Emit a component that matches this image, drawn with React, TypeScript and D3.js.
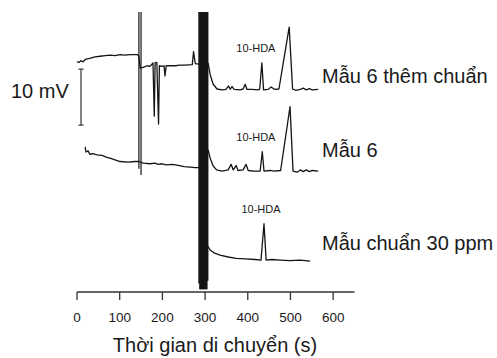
import React from 'react';
import * as d3 from 'd3';

// time (s), signal (mV)
const spikedTrace = [
  [0, 41.1], [5, 41.0], [9, 41.3], [14, 41.1], [21, 41.6], [30, 41.7], [42, 42.0], [54, 42.1],
  [66, 42.2], [77, 42.3], [89, 42.2], [101, 42.4], [112, 42.3], [124, 42.4], [142, 42.4],
  [145, 42.1], [148, 40.0], [155, 40.1], [164, 40.4], [171, 40.3], [178, 40.9], [181, 31.4],
  [183, 40.9], [187, 41.0], [191, 30.0], [193, 40.4], [199, 40.3], [204, 40.4], [206, 38.6],
  [209, 40.4], [218, 40.4], [230, 40.4], [241, 40.5], [253, 40.5], [270, 40.6], [273, 42.9],
  [277, 40.8], [286, 40.7],
];
const spikedTraceAfter = [
  [307, 40.9], [312, 38.8], [319, 37.1], [328, 36.25], [340, 36.1], [349, 36.2], [355, 36.8],
  [359, 36.2], [363, 36.7], [368, 36.2], [382, 36.1], [389, 36.25], [394, 37.1], [398, 36.2],
  [410, 36.2], [424, 36.1], [428, 36.25], [433, 40.9], [437, 36.1], [448, 36.2], [455, 36.6],
  [462, 36.2], [473, 36.25], [497, 47.3], [505, 36.25], [513, 36.0], [523, 36.2], [530, 36.4],
  [537, 36.1], [544, 36.3], [551, 36.1], [565, 36.2],
];
const sampleTrace = [
  [19, 25.9], [21, 25.0], [26, 25.2], [30, 24.6], [37, 24.7], [47, 24.5], [59, 24.4], [68, 24.1],
  [77, 23.9], [89, 23.6], [101, 23.3], [120, 23.2], [136, 23.3], [145, 23.3], [155, 23.0],
  [171, 22.9], [183, 23.0], [190, 22.8], [199, 22.9], [209, 22.7], [223, 22.8], [237, 22.6],
  [251, 22.4], [265, 22.3], [277, 22.2], [286, 22.2],
];
const sampleTraceAfter = [
  [307, 25.4], [312, 23.9], [319, 22.5], [327, 21.8], [340, 21.6], [354, 21.8], [361, 22.8],
  [366, 21.8], [373, 22.6], [377, 21.7], [389, 21.8], [396, 22.8], [401, 21.7], [415, 21.6],
  [429, 21.6], [434, 25.05], [438, 21.6], [452, 21.7], [462, 21.6], [477, 21.7], [499, 33.1],
  [506, 21.6], [516, 21.4], [523, 21.8], [530, 21.5], [537, 21.8], [544, 21.5], [551, 21.7],
  [565, 21.6],
];
const standardTrace = [
  [304, 9.3], [306, 8.2], [312, 7.5], [321, 7.0], [335, 6.6], [354, 6.25], [373, 6.0], [394, 5.9],
  [417, 5.8], [431, 5.7], [438, 12.2], [443, 5.7], [457, 5.8], [476, 5.7], [499, 5.6], [523, 5.7],
  [546, 5.5],
];

// injection / system peaks drawn as vertical lines: [time, top mV, bottom mV]
const thinSpikes = [[145, 50, 22], [150, 50, 20.9]];
const solventPeak = [
  [286, 50, 1.5], [288, 50, 0.5], [290, 50, 0.5], [292, 50, 0.5], [294, 50, 0.5], [296, 50, 0.5],
  [298, 50, 0.5], [300, 50, 0.5], [302, 50, 0.5], [304, 50, 0.5], [306, 50, 2],
];

const xTicks = [0, 100, 200, 300, 400, 500, 600];
const traceLabels = ['Mẫu 6 thêm chuẩn', 'Mẫu 6', 'Mẫu chuẩn 30 ppm'];
const labelLevels = [37.3, 24.1, 7.5];
const peakLabel = '10-HDA';
const peakLabelPos = [[419, 42.8], [419, 26.9], [431, 14.1]];
const scaleBar = [29.8, 39.8];

export default function App() {
  const width = 497;
  const height = 358;
  const x = d3.scaleLinear().domain([0, 650]).range([77, 354.5]);
  const y = d3.scaleLinear().domain([0, 50]).range([292, 12]);
  const line = d3.line<number[]>().x(d => x(d[0])).y(d => y(d[1]));
  const ink = '#151515';
  const textInk = '#1a1a1a';
  const font = '"Liberation Sans", Arial, sans-serif';

  const traces = [spikedTrace, spikedTraceAfter, sampleTrace, sampleTraceAfter, standardTrace];

  return (
    <svg width={width} height={height} style={{ position: 'absolute', left: 0, top: 0, background: '#fff' }}
      fontFamily={font}>
      {traces.map((t, i) => (
        <path key={i} d={line(t) || ''} fill="none" stroke={ink} strokeWidth={1.3} strokeLinejoin="round" />
      ))}
      {thinSpikes.map((s, i) => (
        <line key={i} x1={x(s[0])} x2={x(s[0])} y1={y(s[1])} y2={y(s[2])} stroke={ink} strokeWidth={1.2} />
      ))}
      {solventPeak.map((s, i) => (
        <line key={i} x1={x(s[0])} x2={x(s[0])} y1={y(s[1])} y2={y(s[2])} stroke={ink} strokeWidth={1.6} />
      ))}

      {/* scale bar */}
      <g stroke="#333" strokeWidth={1.2}>
        <line x1={81} x2={81} y1={y(scaleBar[0])} y2={y(scaleBar[1])} />
        <line x1={78.5} x2={83.5} y1={y(scaleBar[0])} y2={y(scaleBar[0])} />
        <line x1={78.5} x2={83.5} y1={y(scaleBar[1])} y2={y(scaleBar[1])} />
      </g>
      <text x={11} y={98} fontSize={20} fill={textInk}>10 mV</text>

      {peakLabelPos.map((p, i) => (
        <text key={i} x={x(p[0])} y={y(p[1])} fontSize={11} textAnchor="middle" fill={textInk}>{peakLabel}</text>
      ))}
      {traceLabels.map((l, i) => (
        <text key={i} x={322} y={y(labelLevels[i])} fontSize={20} fill={textInk}>{l}</text>
      ))}

      {/* x axis */}
      <line x1={x(0)} x2={x(650)} y1={292} y2={292} stroke="#333" strokeWidth={1.3} />
      {xTicks.map(t => (
        <g key={t}>
          <line x1={x(t)} x2={x(t)} y1={292} y2={300} stroke="#333" strokeWidth={1.3} />
          <text x={x(t)} y={321.5} fontSize={13.5} textAnchor="middle" fill={textInk}>{t}</text>
        </g>
      ))}
      <text x={215} y={352} fontSize={20} textAnchor="middle" fill={textInk}>Thời gian di chuyển (s)</text>
    </svg>
  );
}
